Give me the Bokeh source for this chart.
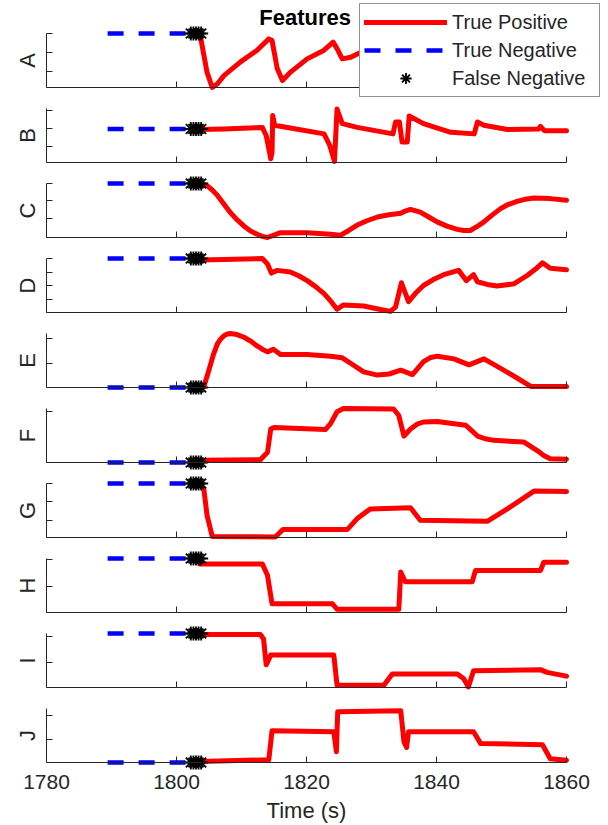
from bokeh.plotting import figure
from bokeh.layouts import column
from bokeh.models import FixedTicker, LinearAxis, Range1d, Legend, LegendItem, Label
from bokeh.embed import file_html
from bokeh.resources import INLINE

# ---------------- data ----------------
FEATURES = ["A", "B", "C", "D", "E", "F", "G", "H", "I", "J"]
X_TICKS = [1780, 1800, 1820, 1840, 1860]
X_MIN, X_MAX = 1780, 1860
TN_T = [1789.4, 1802.5]                          # true-negative time span
FN_T = [1802.2, 1802.6, 1803.0, 1803.4, 1803.8]  # false-negative detections

# level (normalised 0..1 within each panel) of the TN / FN samples
TN_LEVEL = {"A": 1.0, "B": 0.62, "C": 1.0, "D": 1.0, "E": 0.0,
            "F": 0.0, "G": 1.0, "H": 1.0, "I": 1.0, "J": 0.0}

A_t = [1803.6, 1804.7, 1805.5, 1806.3, 1807.3, 1809.8, 1812.4, 1814.2, 1814.7, 1815.5, 1816.3,
       1817.5, 1820.1, 1822.7, 1824.1, 1824.7, 1825.5, 1826.8, 1828.3, 1832.0, 1834.5, 1836.0,
       1840.0, 1845.5, 1846.8, 1852.0, 1860.0]
A_v = [1.0, 0.28, 0.0, 0.07, 0.22, 0.47, 0.69, 0.90, 0.87, 0.35, 0.13,
       0.28, 0.53, 0.69, 0.84, 0.72, 0.53, 0.56, 0.65, 0.80, 0.90, 0.35,
       0.55, 0.85, 0.30, 0.55, 0.70]

B_t = [1803.6, 1807.3, 1813.2, 1813.8, 1814.5, 1814.7, 1814.8, 1815.1, 1817.5, 1822.7, 1823.6,
       1824.3, 1824.5, 1824.7, 1825.5, 1827.8, 1833.3, 1833.7, 1834.3, 1834.7, 1835.5, 1835.8,
       1838.0, 1842.2, 1845.8, 1846.3, 1847.3, 1850.9, 1855.7, 1856.0, 1856.6, 1860.0]
B_v = [0.61, 0.62, 0.65, 0.50, 0.07, 0.19, 0.87, 0.69, 0.64, 0.53, 0.31,
       0.02, 0.50, 0.99, 0.72, 0.65, 0.53, 0.75, 0.75, 0.38, 0.38, 0.86,
       0.72, 0.56, 0.53, 0.75, 0.69, 0.61, 0.62, 0.67, 0.59, 0.59]

C_t = [1803.6, 1804.7, 1805.5, 1806.3, 1808.3, 1809.3, 1810.4, 1811.4, 1812.4, 1813.2, 1814.0,
       1816.0, 1820.1, 1823.7, 1825.2, 1826.5, 1827.8, 1829.3, 1830.9, 1832.7, 1834.5, 1835.2,
       1836.0, 1837.5, 1838.8, 1840.1, 1841.6, 1843.2, 1844.2, 1845.2, 1846.2, 1847.3, 1848.5,
       1849.8, 1851.0, 1852.4, 1853.7, 1855.0, 1857.5, 1860.0]
C_v = [1.0, 0.96, 0.88, 0.78, 0.46, 0.33, 0.21, 0.12, 0.06, 0.02, 0.0,
       0.09, 0.09, 0.06, 0.04, 0.13, 0.23, 0.31, 0.38, 0.42, 0.45, 0.49,
       0.52, 0.47, 0.38, 0.29, 0.21, 0.15, 0.13, 0.13, 0.20, 0.29, 0.41,
       0.53, 0.61, 0.67, 0.71, 0.73, 0.72, 0.69]

D_t = [1803.6, 1807.3, 1813.2, 1814.0, 1814.6, 1815.5, 1817.5, 1818.8, 1820.1, 1821.4, 1822.7,
       1823.8, 1824.7, 1825.7, 1828.8, 1830.8, 1832.9, 1833.7, 1834.6, 1835.7, 1836.8, 1838.0,
       1839.5, 1841.1, 1843.4, 1844.6, 1845.7, 1846.3, 1847.8, 1849.3, 1851.9, 1854.0, 1855.2,
       1856.3, 1857.5, 1860.0]
D_v = [0.97, 0.98, 1.0, 0.90, 0.73, 0.78, 0.75, 0.68, 0.59, 0.48, 0.35,
       0.20, 0.06, 0.14, 0.12, 0.07, 0.02, 0.10, 0.55, 0.20, 0.36, 0.50,
       0.61, 0.70, 0.78, 0.59, 0.70, 0.57, 0.52, 0.49, 0.53, 0.69, 0.80,
       0.92, 0.82, 0.79]

E_t = [1803.6, 1804.2, 1805.2, 1805.7, 1806.3, 1806.8, 1807.3, 1807.8, 1808.3, 1809.3, 1810.4,
       1811.4, 1812.4, 1813.2, 1814.0, 1814.9, 1816.0, 1820.1, 1823.7, 1825.5, 1826.9, 1828.8,
       1830.9, 1832.7, 1834.5, 1836.3, 1838.0, 1839.0, 1840.1, 1842.7, 1845.0, 1847.3, 1849.8,
       1852.2, 1854.5, 1860.0]
E_v = [0.0, 0.01, 0.41, 0.62, 0.81, 0.90, 0.96, 0.99, 1.0, 0.98, 0.93,
       0.86, 0.77, 0.71, 0.66, 0.71, 0.61, 0.61, 0.58, 0.55, 0.44, 0.29,
       0.23, 0.25, 0.32, 0.24, 0.48, 0.55, 0.58, 0.53, 0.42, 0.53, 0.36,
       0.19, 0.02, 0.02]

F_t = [1803.6, 1812.9, 1814.0, 1814.5, 1815.0, 1822.9, 1823.7, 1824.7, 1825.7, 1833.4, 1834.2,
       1835.0, 1836.0, 1837.0, 1838.0, 1840.1, 1844.5, 1845.5, 1846.3, 1847.5, 1848.8, 1853.4,
       1855.5, 1856.5, 1857.5, 1860.0]
F_v = [0.04, 0.05, 0.19, 0.62, 0.65, 0.61, 0.72, 0.94, 1.0, 0.99, 0.87,
       0.49, 0.62, 0.71, 0.75, 0.76, 0.69, 0.58, 0.49, 0.44, 0.41, 0.38,
       0.22, 0.13, 0.07, 0.06]

G_t = [1803.6, 1804.2, 1804.7, 1805.5, 1815.2, 1816.4, 1826.3, 1827.8, 1829.8, 1836.0, 1837.5,
       1847.8, 1850.9, 1855.0, 1860.0]
G_v = [1.0, 0.90, 0.41, 0.02, 0.01, 0.15, 0.15, 0.35, 0.53, 0.55, 0.32,
       0.30, 0.53, 0.86, 0.85]

H_t = [1803.6, 1813.2, 1814.0, 1814.7, 1824.0, 1824.7, 1834.2, 1834.5, 1835.2, 1845.5, 1846.0,
       1856.0, 1856.5, 1860.0]
H_v = [0.90, 0.90, 0.69, 0.16, 0.16, 0.06, 0.06, 0.75, 0.57, 0.57, 0.78,
       0.78, 0.93, 0.93]

I_t = [1803.6, 1812.9, 1813.4, 1813.8, 1814.5, 1824.2, 1824.7, 1831.9, 1833.2, 1843.2, 1844.2,
       1844.9, 1845.7, 1856.0, 1857.0, 1860.0]
I_v = [0.98, 0.98, 0.90, 0.42, 0.60, 0.60, 0.04, 0.04, 0.25, 0.25, 0.16,
       0.01, 0.31, 0.33, 0.28, 0.21]

J_t = [1803.6, 1814.2, 1814.7, 1824.2, 1824.6, 1824.8, 1834.5, 1835.0, 1835.4, 1835.7, 1845.7,
       1846.8, 1856.3, 1857.5, 1860.0]
J_v = [0.02, 0.05, 0.59, 0.57, 0.20, 0.94, 0.96, 0.38, 0.28, 0.57, 0.57,
       0.35, 0.33, 0.07, 0.04]

SERIES = {"A": (A_t, A_v), "B": (B_t, B_v), "C": (C_t, C_v), "D": (D_t, D_v), "E": (E_t, E_v),
          "F": (F_t, F_v), "G": (G_t, G_v), "H": (H_t, H_v), "I": (I_t, I_v), "J": (J_t, J_v)}

Y_TICKS = {"A": [0.30, 0.65, 1.0], "B": [0.30, 0.63, 0.96], "C": [0.35, 0.68, 1.0],
           "D": [0.25, 0.5, 0.75, 1.0], "E": [0.45, 0.9], "F": [0.95],
           "G": [0.31, 0.66, 1.0], "H": [0.48, 0.98], "I": [0.46, 0.95], "J": [0.43, 0.87]}

# ---------------- layout / styling ----------------
FONT = "Liberation Sans"
AX = "#262626"
WIDTH = 606
LEFT = 46                 # px from page left to the y axes
PX_PER_S = 6.5            # horizontal scale of the reference
PANEL = 54                # px of one panel's 0..1 span
PERIOD = 75               # px between consecutive panels
FIRST_TOP = 33            # page y of panel A's top
TOTAL_H = 824

# frames span the whole canvas so nothing (labels, legend, markers) gets clipped
x_start = X_MIN - LEFT / PX_PER_S
x_end = X_MIN + (WIDTH - LEFT) / PX_PER_S

n = len(FEATURES)
bounds = [0] + [FIRST_TOP + PANEL + 11 + PERIOD * k for k in range(n - 1)] + [TOTAL_H]

figs = []
for i, name in enumerate(FEATURES):
    first = i == 0
    last = i == n - 1
    top, bot = bounds[i], bounds[i + 1]
    p1 = FIRST_TOP + PERIOD * i          # page y of v = 1
    p0 = p1 + PANEL                      # page y of v = 0
    y0 = -(bot - p0) / PANEL
    y1 = 1 + (p1 - top) / PANEL
    p = figure(width=WIDTH, height=bot - top,
               x_range=Range1d(x_start, x_end), y_range=Range1d(y0, y1),
               output_backend="svg", toolbar_location=None,
               x_axis_location=None, y_axis_location=None,
               min_border=0, min_border_left=0, min_border_right=0,
               min_border_top=0, min_border_bottom=0)
    p.outline_line_color = None
    p.grid.grid_line_color = None
    p.background_fill_color = "white"

    yax = LinearAxis(fixed_location=X_MIN, bounds=(0, 1), ticker=FixedTicker(ticks=Y_TICKS[name]),
                     axis_label=name, axis_label_text_font=FONT,
                     axis_label_text_font_size="22px", axis_label_text_font_style="normal",
                     axis_label_text_color=AX, axis_label_standoff=7,
                     major_label_text_font_size="0px", major_label_text_color=None,
                     major_label_standoff=0,
                     major_tick_in=6, major_tick_out=0, minor_tick_in=0, minor_tick_out=0,
                     axis_line_color=AX, major_tick_line_color=AX)
    p.add_layout(yax, "left")

    xax = LinearAxis(fixed_location=0, bounds=(X_MIN, X_MAX), ticker=FixedTicker(ticks=X_TICKS),
                     major_tick_in=6, major_tick_out=0, minor_tick_in=0, minor_tick_out=0,
                     axis_line_color=AX, major_tick_line_color=AX)
    if last:
        xax.major_label_text_font = FONT
        xax.major_label_text_font_size = "21px"
        xax.major_label_text_color = AX
        xax.major_label_standoff = 12
        xax.axis_label = "Time (s)"
        xax.axis_label_text_font = FONT
        xax.axis_label_text_font_size = "22px"
        xax.axis_label_text_font_style = "normal"
        xax.axis_label_text_color = AX
        xax.axis_label_standoff = 6
    else:
        xax.major_label_text_font_size = "0px"
        xax.major_label_text_color = None
        xax.major_label_standoff = 0
    p.add_layout(xax, "below")

    t, v = SERIES[name]
    lvl = TN_LEVEL[name]
    r_tp = p.line(t, v, line_color="#ff0000", line_width=5, line_join="round", line_cap="round")
    r_tn = p.line(TN_T, [lvl] * len(TN_T), line_color="#0000ff", line_width=4.5, line_dash="16 15")
    r_fn = p.scatter(FN_T, [lvl] * len(FN_T), marker="asterisk", size=14,
                     line_color="black", line_width=1.8)

    if first:
        legend = Legend(items=[LegendItem(label="True Positive", renderers=[r_tp]),
                               LegendItem(label="True Negative", renderers=[r_tn]),
                               LegendItem(label="False Negative", renderers=[r_fn])],
                        location=(LEFT + 313, 1), label_text_font=FONT, label_text_font_size="20px",
                        label_text_color=AX, glyph_width=83, glyph_height=28, label_height=28,
                        label_width=143, label_standoff=5, padding=4, spacing=0, margin=0,
                        border_line_color=AX, border_line_width=1,
                        background_fill_color="white", background_fill_alpha=1.0)
        p.add_layout(legend, "center")
        p.add_layout(Label(x=1819.8, y=1 + (FIRST_TOP - 17) / PANEL, text="Features",
                           text_font=FONT, text_font_size="22px", text_font_style="bold",
                           text_color="black", text_align="center", text_baseline="middle"))
    figs.append(p)

layout = column(*figs, spacing=0)
open("out.html", "w").write(file_html(layout, INLINE))
